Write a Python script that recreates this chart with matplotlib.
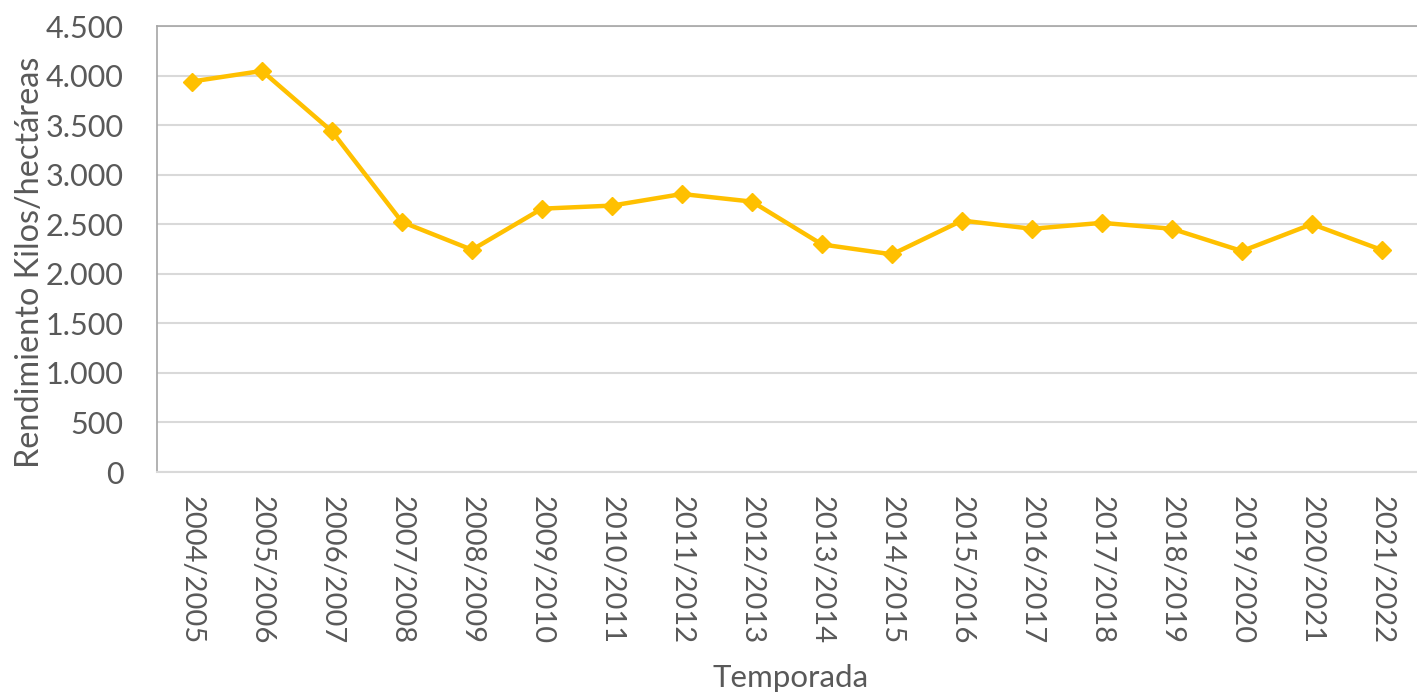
import matplotlib
matplotlib.use("Agg")
import matplotlib.pyplot as plt
from matplotlib.ticker import FuncFormatter

temporadas = ["2004/2005", "2005/2006", "2006/2007", "2007/2008", "2008/2009",
              "2009/2010", "2010/2011", "2011/2012", "2012/2013", "2013/2014",
              "2014/2015", "2015/2016", "2016/2017", "2017/2018", "2018/2019",
              "2019/2020", "2020/2021", "2021/2022"]
rendimiento = [3940, 4047, 3436, 2523, 2242, 2657, 2688, 2805, 2728, 2296,
               2196, 2537, 2454, 2514, 2454, 2229, 2501, 2239]
y_ticks = [0, 500, 1000, 1500, 2000, 2500, 3000, 3500, 4000, 4500]

plt.rcParams['font.family'] = ['Lato', 'DejaVu Sans']
txt = '#595959'

fig = plt.figure(figsize=(14.17, 6.94), dpi=100)
ax = fig.add_axes([157/1417, (694-472)/694, 1260/1417, 446/694])

x = list(range(len(temporadas)))
ax.plot(x, rendimiento, color='#FFC000', linewidth=3.2, marker='D',
        markersize=9, zorder=3)

ax.set_xlim(-0.5, len(temporadas) - 0.5)
ax.set_ylim(0, 4500)
ax.set_yticks(y_ticks)
ax.yaxis.set_major_formatter(FuncFormatter(lambda v, p: f"{int(v):,}".replace(",", ".")))
ax.set_xticks(x)
ax.set_xticklabels(temporadas, rotation=-90, va='top', ha='center')

ax.grid(axis='y', color='#D9D9D9', linewidth=1.5, zorder=0)
ax.set_axisbelow(True)
ax.spines['right'].set_visible(False)
ax.spines['left'].set_color('#A6A6A6')
ax.spines['top'].set_color('#A6A6A6')
ax.spines['bottom'].set_color('#D9D9D9')
ax.spines['left'].set_linewidth(1.2)
ax.spines['top'].set_linewidth(1.2)
ax.spines['bottom'].set_linewidth(1.5)

ax.tick_params(axis='y', length=0, pad=24, labelsize=22, labelcolor=txt)
ax.tick_params(axis='x', length=0, pad=17, labelsize=21, labelcolor=txt)

fig.text(30/1417, 1 - 262/694, "Rendimiento Kilos/hectáreas", rotation=90,
         ha='center', va='center', fontsize=23.3, color=txt)
fig.text(791/1417, 1 - 678/694, "Temporada", ha='center', va='center',
         fontsize=22.5, color=txt)

fig.savefig("out.png", dpi=100)
